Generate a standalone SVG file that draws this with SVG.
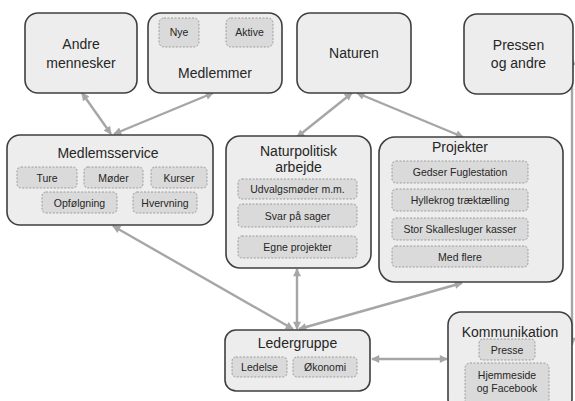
<svg xmlns="http://www.w3.org/2000/svg" width="575" height="401" viewBox="0 0 575 401">
<defs>
<style>
.box{fill:#ededed;stroke:#3f3f3f;stroke-width:1.6}
.sub{fill:#dadada;stroke:#8c8c8c;stroke-width:0.8;stroke-dasharray:2 1.5}
.t{font-family:"Liberation Sans",Arial,sans-serif;font-size:14px;fill:#262626;text-anchor:middle}
.s{font-family:"Liberation Sans",Arial,sans-serif;font-size:10.5px;fill:#262626;text-anchor:middle}
.c{stroke:#a6a6a6;stroke-width:2.4;fill:none;marker-start:url(#ah);marker-end:url(#ah)}
</style>
<marker id="ah" viewBox="0 0 10 10" refX="9" refY="5" markerUnits="userSpaceOnUse" markerWidth="9" markerHeight="8" orient="auto-start-reverse">
<path d="M0,0 L10,5 L0,10 z" fill="#a6a6a6"/>
</marker>
</defs>
<rect width="575" height="401" fill="#ffffff"/>

<g id="connectors">
<line class="c" x1="82" y1="93" x2="111" y2="134"/>
<line class="c" x1="213" y1="93" x2="114" y2="134"/>
<line class="c" x1="352" y1="93" x2="297" y2="137"/>
<line class="c" x1="357" y1="93" x2="463" y2="137"/>
<line class="c" x1="113" y1="226" x2="293" y2="329"/>
<line class="c" x1="297" y1="269" x2="297" y2="329"/>
<line class="c" x1="462" y1="283" x2="299" y2="329"/>
<line class="c" x1="372" y1="359" x2="447" y2="359"/>
<line class="c" x1="572" y1="58" x2="572" y2="345"/>
</g>

<g id="andre">
<rect class="box" x="25" y="13" width="112" height="80" rx="13"/>
<text class="t" x="81" y="49">Andre</text>
<text class="t" x="81" y="68">mennesker</text>
</g>

<g id="medlemmer">
<rect class="box" x="148" y="13" width="134" height="80" rx="13"/>
<rect class="sub" x="159" y="18" width="40" height="29" rx="5"/>
<text class="s" x="179" y="36">Nye</text>
<rect class="sub" x="226" y="18" width="47" height="29" rx="5"/>
<text class="s" x="249.5" y="36">Aktive</text>
<text class="t" x="215" y="78">Medlemmer</text>
</g>

<g id="naturen">
<rect class="box" x="297" y="13" width="114" height="80" rx="13"/>
<text class="t" x="354" y="58">Naturen</text>
</g>

<g id="pressen">
<rect class="box" x="464" y="14" width="109" height="80" rx="13"/>
<text class="t" x="518.5" y="50">Pressen</text>
<text class="t" x="518.5" y="68">og andre</text>
</g>

<g id="medlemsservice">
<rect class="box" x="7" y="135" width="206" height="90" rx="13"/>
<text class="t" x="108" y="158">Medlemsservice</text>
<rect class="sub" x="17" y="167" width="60" height="21" rx="4"/>
<text class="s" x="47" y="181.5">Ture</text>
<rect class="sub" x="84" y="167" width="59" height="21" rx="4"/>
<text class="s" x="113.5" y="181.5">Møder</text>
<rect class="sub" x="151" y="167" width="56" height="21" rx="4"/>
<text class="s" x="179" y="181.5">Kurser</text>
<rect class="sub" x="42" y="192" width="75" height="21" rx="4"/>
<text class="s" x="79.5" y="206.5">Opfølgning</text>
<rect class="sub" x="133" y="192" width="64" height="21" rx="4"/>
<text class="s" x="165" y="206.5">Hvervning</text>
</g>

<g id="naturpolitisk">
<rect class="box" x="226" y="136" width="145" height="132" rx="14"/>
<text class="t" x="298.5" y="156">Naturpolitisk</text>
<text class="t" x="298.5" y="172">arbejde</text>
<rect class="sub" x="238" y="179" width="119" height="20" rx="4"/>
<text class="s" x="297.5" y="193">Udvalgsmøder m.m.</text>
<rect class="sub" x="238" y="204" width="119" height="23" rx="4"/>
<text class="s" x="297.5" y="219.5">Svar på sager</text>
<rect class="sub" x="238" y="236" width="119" height="22" rx="4"/>
<text class="s" x="297.5" y="251">Egne projekter</text>
</g>

<g id="projekter">
<rect class="box" x="379" y="137" width="184" height="145" rx="16"/>
<text class="t" x="460" y="152">Projekter</text>
<rect class="sub" x="392" y="161" width="136" height="22" rx="4"/>
<text class="s" x="460" y="176">Gedser Fuglestation</text>
<rect class="sub" x="392" y="189" width="136" height="22" rx="4"/>
<text class="s" x="460" y="204">Hyllekrog træktælling</text>
<rect class="sub" x="392" y="218" width="136" height="22" rx="4"/>
<text class="s" x="460" y="233">Stor Skallesluger kasser</text>
<rect class="sub" x="392" y="246" width="136" height="21" rx="4"/>
<text class="s" x="460" y="260.5">Med flere</text>
</g>

<g id="ledergruppe">
<rect class="box" x="225" y="330" width="145" height="61" rx="11"/>
<text class="t" x="297.5" y="348">Ledergruppe</text>
<rect class="sub" x="232" y="357" width="55" height="20" rx="4"/>
<text class="s" x="259.5" y="371">Ledelse</text>
<rect class="sub" x="293" y="357" width="64" height="20" rx="4"/>
<text class="s" x="325" y="371">Økonomi</text>
</g>

<g id="kommunikation">
<rect class="box" x="448" y="312" width="124" height="100" rx="13"/>
<text class="t" x="510" y="337">Kommunikation</text>
<rect class="sub" x="479" y="339" width="56" height="21" rx="4"/>
<text class="s" x="507" y="353.5">Presse</text>
<rect class="sub" x="465" y="363" width="84" height="45" rx="5"/>
<text class="s" x="507" y="378.5">Hjemmeside</text>
<text class="s" x="507" y="392">og Facebook</text>
</g>
</svg>
